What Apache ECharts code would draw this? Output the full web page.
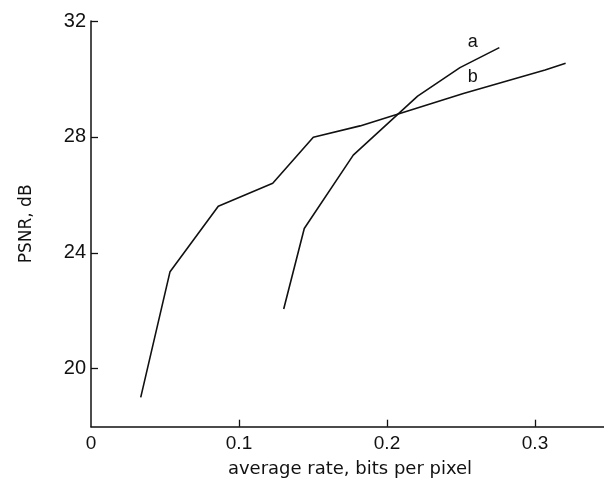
<!DOCTYPE html>
<html>
<head>
<meta charset="utf-8">
<script src="https://cdn.jsdelivr.net/npm/echarts@6/dist/echarts.min.js"></script>
<style>
  html, body { margin: 0; padding: 0; background: #fff; }
  #chart { width: 604px; height: 481px; }
</style>
</head>
<body>
<div id="chart"></div>
<script>
  // curve a (steep one on the right)
  var rateA = [0.1302, 0.1441, 0.1772, 0.2207, 0.2493, 0.2759];
  var psnrA = [22.06, 24.84, 27.37, 29.41, 30.39, 31.08];
  // curve b (starts low on the left)
  var rateB = [0.0336, 0.0534, 0.086, 0.1228, 0.1502, 0.1818, 0.2516, 0.3068, 0.3207];
  var psnrB = [19.01, 23.35, 25.61, 26.40, 27.99, 28.38, 29.50, 30.31, 30.54];

  var xTicks = [0, 0.1, 0.2, 0.3];
  var yTicks = [20, 24, 28, 32];

  // where the little curve letters sit, in data units
  var nameA = { text: 'a', at: [0.2579, 31.29] };
  var nameB = { text: 'b', at: [0.2579, 30.08] };

  function pairs(xs, ys) {
    var out = [];
    for (var i = 0; i < xs.length; i++) out.push([xs[i], ys[i]]);
    return out;
  }

  function curveName(n) {
    return {
      symbol: 'circle',
      symbolSize: 1,
      itemStyle: { color: 'rgba(0,0,0,0)' },
      data: [{ coord: n.at, value: n.text }],
      label: { show: true, formatter: n.text, color: ink, fontSize: 18, fontFamily: tickFont, position: 'inside' }
    };
  }

  var ink = '#111';
  var tickFont = 'Liberation Sans';

  var chart = echarts.init(document.getElementById('chart'));
  chart.setOption({
    animation: false,
    backgroundColor: '#fff',
    grid: { left: 91, top: 21, width: 518, height: 405.7, containLabel: false, outerBoundsMode: 'none' },
    xAxis: {
      type: 'value',
      min: 0,
      max: 0.35,
      name: 'average rate, bits per pixel',
      nameLocation: 'middle',
      nameGap: 34,
      nameTextStyle: { color: ink, fontSize: 18, fontFamily: 'DejaVu Sans' },
      axisLine: { lineStyle: { color: ink, width: 1.5 } },
      axisTick: { show: true, inside: true, length: 7, customValues: [0.1, 0.2, 0.3], lineStyle: { color: ink, width: 1.3 } },
      axisLabel: { customValues: xTicks, color: ink, fontSize: 19, fontFamily: tickFont, margin: 8 },
      splitLine: { show: false }
    },
    yAxis: {
      type: 'value',
      min: 18,
      max: 32,
      name: 'PSNR, dB',
      nameLocation: 'middle',
      nameGap: 56,
      nameTextStyle: { color: ink, fontSize: 17, fontFamily: 'DejaVu Sans' },
      axisLine: { show: true, lineStyle: { color: ink, width: 1.5 } },
      axisTick: { show: true, inside: true, length: 7, customValues: yTicks, lineStyle: { color: ink, width: 1.3 } },
      axisLabel: { customValues: yTicks, color: ink, fontSize: 20, fontFamily: tickFont, margin: 5 },
      splitLine: { show: false }
    },
    series: [
      {
        name: 'a',
        type: 'line',
        data: pairs(rateA, psnrA),
        symbol: 'none',
        lineStyle: { color: ink, width: 1.6 },
        markPoint: curveName(nameA)
      },
      {
        name: 'b',
        type: 'line',
        data: pairs(rateB, psnrB),
        symbol: 'none',
        lineStyle: { color: ink, width: 1.6 },
        markPoint: curveName(nameB)
      }
    ]
  });
</script>
</body>
</html>
